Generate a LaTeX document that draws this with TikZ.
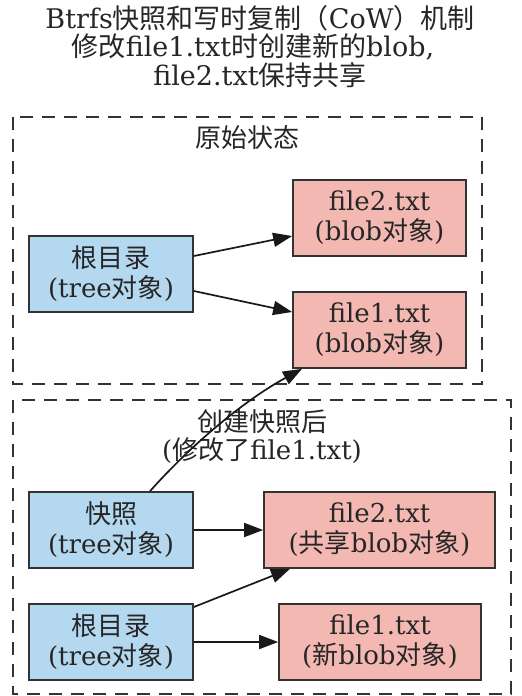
\documentclass[tikz,border=0pt]{standalone}
\usepackage{fontspec}
\setmainfont{DejaVu Serif}
\newfontfamily\cjk{Noto Sans CJK SC}
\newcommand\zh[1]{{\cjk #1}}
\usetikzlibrary{arrows.meta,calc}
\definecolor{bluefill}{HTML}{B3D8F0}
\definecolor{pinkfill}{HTML}{F4B8B2}
\definecolor{linegray}{HTML}{333333}
\definecolor{textgray}{HTML}{262626}
\begin{document}
\begin{tikzpicture}[x=1pt,y=-1pt,
  every node/.style={text=textgray, font=\fontsize{26}{30}\selectfont, align=center, inner sep=0pt},
  titletext/.style={font=\fontsize{27}{30}\selectfont},
  treebox/.style={draw=linegray, line width=1.7pt, fill=bluefill, minimum width=164pt, minimum height=76pt},
  blobbox/.style={draw=linegray, line width=1.7pt, fill=pinkfill, minimum height=76pt},
  cluster/.style={draw=linegray, line width=1.6pt, dash pattern=on 13pt off 9pt},
  edge/.style={draw=black!90, line width=1.7pt, -{Triangle[length=19pt,width=14pt]}}
]
\useasboundingbox (0,0) rectangle (522,696);
\fill[white] (0,0) rectangle (522,696);

% title
\node[titletext] (t1) at (260,18) {Btrfs\zh{快照和写时复制（}CoW\zh{）机制}};
\node[titletext] (t2) at (253,47) {\zh{修改}file1.txt\zh{时创建新的}blob,};
\node[titletext] (t3) at (260,75) {file2.txt\zh{保持共享}};

% clusters
\draw[cluster] (13,117) rectangle (482,384);
\node (c1) at (247,138) {\zh{原始状态}};
\draw[cluster] (13,400) rectangle (511,694);
\node (c2a) at (262,422) {\zh{创建快照后}};
\node (c2b) at (262,451) {(\zh{修改了}file1.txt)};

% nodes
\node[treebox] (root1) at (111,274) {\zh{根目录}\\(tree\zh{对象})};
\node[blobbox, minimum width=173pt] (of2) at (379.5,218) {file2.txt\\(blob\zh{对象})};
\node[blobbox, minimum width=173pt] (of1) at (379.5,330) {file1.txt\\(blob\zh{对象})};
\node[treebox] (snap) at (111,530) {\zh{快照}\\(tree\zh{对象})};
\node[blobbox, minimum width=231pt] (sf2) at (379.5,530) {file2.txt\\(\zh{共享}blob\zh{对象})};
\node[treebox] (root2) at (111,642) {\zh{根目录}\\(tree\zh{对象})};
\node[blobbox, minimum width=202pt] (nf1) at (380,642) {file1.txt\\(\zh{新}blob\zh{对象})};

% edges
\draw[edge] ($(root1.east)+(0,-18)$) -- ($(of2.west)+(0,18)$);
\draw[edge] ($(root1.east)+(0,17)$) -- ($(of1.west)+(0,-18)$);
\draw[edge] ($(snap.north)+(39,0)$) .. controls (193,443) and (245,400) .. ($(of1.south)+(-77.5,0)$);
\draw[edge] (snap.east) -- (sf2.west);
\draw[edge] ($(root2.east)+(0,-35)$) -- ($(sf2.south)+(-89.5,0)$);
\draw[edge] (root2.east) -- (nf1.west);
\end{tikzpicture}
\end{document}
